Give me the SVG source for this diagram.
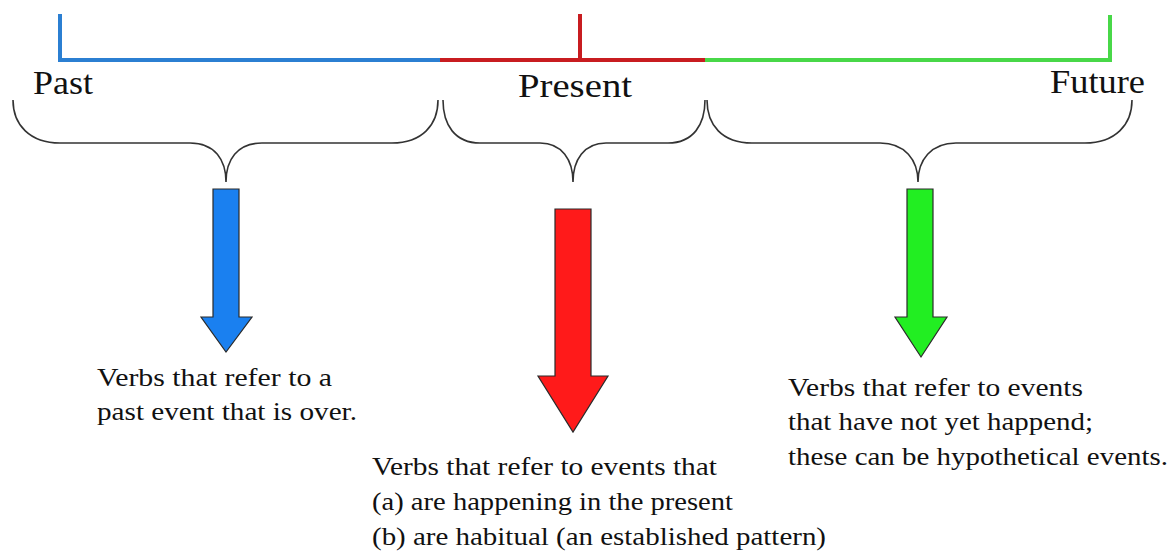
<svg xmlns="http://www.w3.org/2000/svg" width="1174" height="559" viewBox="0 0 1174 559">
<style>
.tl{fill:none;stroke-width:4;stroke-linecap:butt;stroke-linejoin:miter}
.brace{fill:none;stroke:#333;stroke-width:1.6}
.arrow{stroke:#2a2a2a;stroke-width:1.2;stroke-linejoin:miter}
.lbl{font-family:'Liberation Serif','Times New Roman',Times,serif;font-size:34px;fill:#111}
.txt{font-family:'Liberation Serif','Times New Roman',Times,serif;font-size:26px;fill:#111}
</style>
<rect width="1174" height="559" fill="#fff"/>
<g id="connectors">
<path class="tl" stroke="#2b7fd2" d="M60,14 L60,60 L440,60"/>
<path class="tl" stroke="#c81c20" d="M440,60 L705,60 M580,14 L580,60"/>
<path class="tl" stroke="#48d848" d="M705,60 L1110,60 L1110,15"/>
<path class="brace" d="M13,100 C13,125 30,143 60,143 L190,143 C215,143 226,160 226,182 C226,160 237,143 262,143 L392,143 C422,143 438,125 438,100"/>
<path class="brace" d="M443,100 C443,125 455,143 480,143 L540,143 C562,143 573,160 573,182 C573,160 584,143 606,143 L668,143 C693,143 705,125 705,100"/>
<path class="brace" d="M707,100 C707,125 722,143 752,143 L880,143 C905,143 918,160 918,182 C918,160 931,143 956,143 L1085,143 C1115,143 1132,125 1132,100"/>
</g>
<g id="past">
<text class="lbl" x="33" y="94" textLength="60" lengthAdjust="spacingAndGlyphs">Past</text>
<path class="arrow" fill="#1a80f0" d="M213,189 L239,189 L239,317 L252,317 L226,352 L201,317 L213,317 Z"/>
<text class="txt" x="97" y="386" textLength="235" lengthAdjust="spacingAndGlyphs">Verbs that refer to a</text>
<text class="txt" x="97" y="420" textLength="260" lengthAdjust="spacingAndGlyphs">past event that is over.</text>
</g>
<g id="present">
<text class="lbl" x="518" y="97" textLength="114" lengthAdjust="spacingAndGlyphs">Present</text>
<path class="arrow" fill="#ff1a1a" d="M555,209 L591,209 L591,376 L608,376 L573,432 L538,376 L555,376 Z"/>
<text class="txt" x="372" y="475" textLength="345" lengthAdjust="spacingAndGlyphs">Verbs that refer to events that</text>
<text class="txt" x="372" y="510" textLength="361" lengthAdjust="spacingAndGlyphs">(a) are happening in the present</text>
<text class="txt" x="372" y="545" textLength="454" lengthAdjust="spacingAndGlyphs">(b) are habitual (an established pattern)</text>
</g>
<g id="future">
<text class="lbl" x="1050" y="93" textLength="95" lengthAdjust="spacingAndGlyphs">Future</text>
<path class="arrow" fill="#22ee22" d="M907,189 L933,189 L933,317 L947,317 L921,357 L895,317 L907,317 Z"/>
<text class="txt" x="788" y="396" textLength="295" lengthAdjust="spacingAndGlyphs">Verbs that refer to events</text>
<text class="txt" x="788" y="430" textLength="305" lengthAdjust="spacingAndGlyphs">that have not yet happend;</text>
<text class="txt" x="788" y="465" textLength="380" lengthAdjust="spacingAndGlyphs">these can be hypothetical events.</text>
</g>
</svg>
